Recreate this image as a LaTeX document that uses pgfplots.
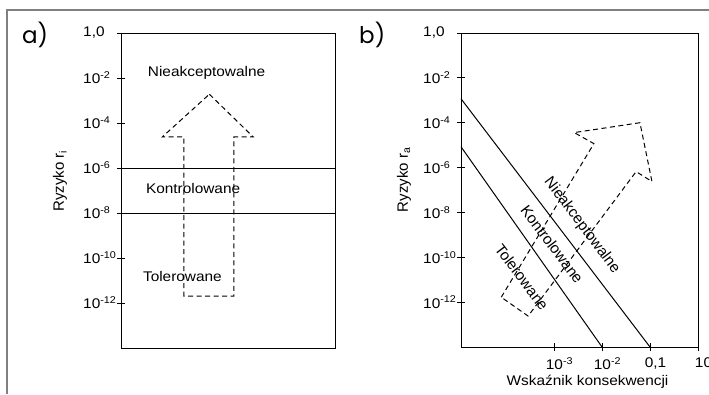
\documentclass[border=0pt]{standalone}
\usepackage{fontspec}
\setmainfont{Liberation Sans}
\newfontfamily\labfont{Poppins}
\usepackage{pgfplots}
\pgfplotsset{compat=1.18}
\tikzset{
  txt/.style={font=\fontsize{14}{17}\selectfont, inner sep=0pt, xscale=1.1},
  rtxt/.style={font=\fontsize{15.2}{17}\selectfont, inner sep=0pt, rotate=-53},
  dsh/.style={black, line width=1pt, dash pattern=on 5pt off 3.5pt},
  sol/.style={black, line width=1pt},
}
\begin{document}
\begin{tikzpicture}
\useasboundingbox (0,0) rectangle (709pt,-394pt);
\draw[gray, line width=1.5pt] (709pt,-10pt) -- (7pt,-10pt) -- (7pt,-394pt);
\node[font=\labfont\fontsize{23}{23}\selectfont, anchor=base west, inner sep=0pt] at (22pt,-43pt) {a)};
\node[font=\labfont\fontsize{23}{23}\selectfont, anchor=base west, inner sep=0pt] at (359pt,-43pt) {b)};

\begin{axis}[scale only axis, ymode=log, ymin=1e-14, ymax=1,
    axis line style={line width=1pt, black},
    major tick style={line width=1pt, black},
    major tick length=8pt, tick align=center,
    yminorticks=false, xminorticks=false,
    ytick={1e-12,1e-10,1e-8,1e-6,1e-4,1e-2,1},
    yticklabels={10\textsuperscript{-12},10\textsuperscript{-10},10\textsuperscript{-8},10\textsuperscript{-6},10\textsuperscript{-4},10\textsuperscript{-2},{1,0}},
    yticklabel style={anchor=west, inner sep=0pt, xshift=-34pt, xscale=1.1, font=\fontsize{14}{14}\selectfont},
    ytick pos=left,
    label style={font=\fontsize{15}{18}\selectfont},
    clip=false,
  at={(121pt,-33pt)}, anchor=north west,
  width=214pt, height=315pt, xmin=0, xmax=1, xtick=\empty,
  ylabel={Ryzyko r\textsubscript{i}},
  ylabel style={at={(axis description cs:-0.285,0.53)}, anchor=center}]
\addplot[sol] coordinates {(0,1e-6) (1,1e-6)};
\addplot[sol] coordinates {(0,1e-8) (1,1e-8)};
\addplot[dsh] coordinates {(0.413,1.905e-3) (0.618,2.4e-5) (0.528,2.4e-5) (0.528,2.04e-12) (0.294,2.04e-12) (0.294,2.4e-5) (0.193,2.4e-5) (0.413,1.905e-3)};
\node[txt] at (axis cs:0.40,1.66e-2) {Nieakceptowalne};
\node[txt] at (axis cs:0.337,1.26e-7) {Kontrolowane};
\node[txt] at (axis cs:0.287,1.51e-11) {Tolerowane};
\end{axis}

\begin{axis}[scale only axis, ymode=log, ymin=1e-14, ymax=1,
    axis line style={line width=1pt, black},
    major tick style={line width=1pt, black},
    major tick length=8pt, tick align=center,
    yminorticks=false, xminorticks=false,
    ytick={1e-12,1e-10,1e-8,1e-6,1e-4,1e-2,1},
    yticklabels={10\textsuperscript{-12},10\textsuperscript{-10},10\textsuperscript{-8},10\textsuperscript{-6},10\textsuperscript{-4},10\textsuperscript{-2},{1,0}},
    yticklabel style={anchor=west, inner sep=0pt, xshift=-34pt, xscale=1.1, font=\fontsize{14}{14}\selectfont},
    ytick pos=left,
    label style={font=\fontsize{15}{18}\selectfont},
    clip=false,
  at={(461pt,-33pt)}, anchor=north west,
  width=237pt, height=314pt, xmode=log, xmin=1.15e-5, xmax=1,
  xtick={1e-3,1e-2,1e-1,1},
  xticklabels={10\textsuperscript{-3},10\textsuperscript{-2},{0,1},10},
  xtick pos=bottom,
  xticklabel style={font=\fontsize{14}{14}\selectfont, xscale=1.1, xshift=5pt, yshift=-3pt},
  ylabel={Ryzyko r\textsubscript{a}},
  ylabel style={at={(axis description cs:-0.240,0.532)}, anchor=center},
  xlabel={Wskaźnik konsekwencji},
  xlabel style={at={(axis description cs:0.534,-0.111)}, anchor=center, font=\fontsize{14}{17}\selectfont, xscale=1.1}]
\addplot[sol] coordinates {(1.15e-5,1.17e-3) (0.1,1e-14)};
\addplot[sol] coordinates {(1.15e-5,8.5e-6) (0.01,1e-14)};
\addplot[dsh] coordinates {(7.94e-5,1.66e-12) (6.76e-3,1.17e-5) (2.63e-3,3.63e-5) (0.0617,1e-4) (0.1096,2.4e-7) (0.0513,6.6e-7) (2.88e-4,2.4e-13) (7.94e-5,1.66e-12)};
\node[rtxt] at (axis cs:3.8e-3,2.63e-9) {Nieakceptowalne};
\node[rtxt] at (axis cs:9.1e-4,3.8e-10) {Kontrolowane};
\node[rtxt] at (axis cs:2.14e-4,1.29e-11) {Tolerowane};
\end{axis}
\end{tikzpicture}
\end{document}
